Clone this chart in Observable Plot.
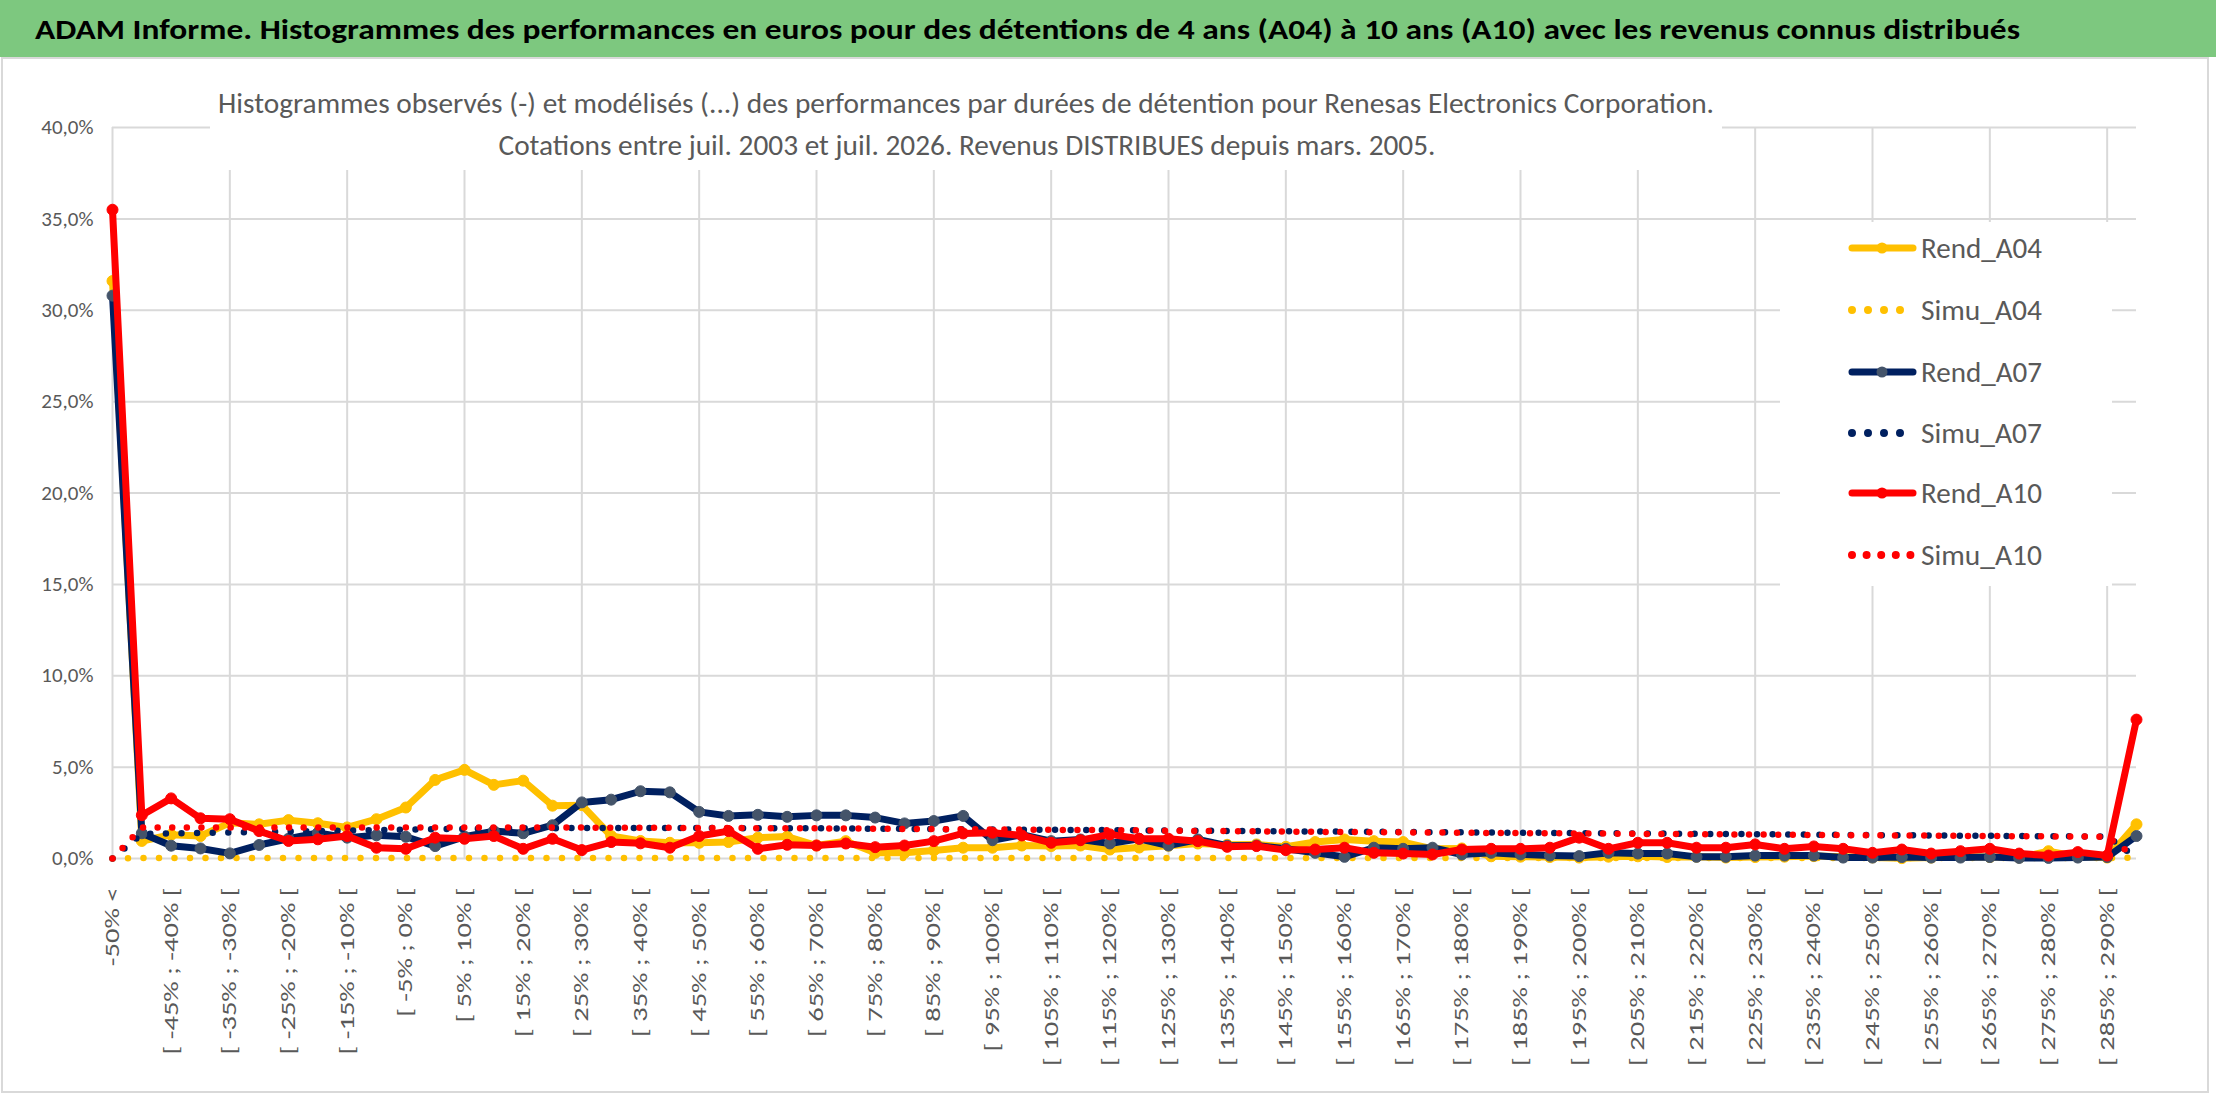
<!DOCTYPE html>
<html><head><meta charset="utf-8">
<script src="https://cdn.jsdelivr.net/npm/d3@7"></script>
<script src="https://cdn.jsdelivr.net/npm/@observablehq/plot@0.6"></script>
<style>
html,body{margin:0;padding:0;background:#fff;}
#wrap{position:relative;width:2216px;height:1102px;overflow:hidden;background:#fff;}
#chart{position:absolute;left:0;top:58px;}
#overlay{position:absolute;left:0;top:0;pointer-events:none;}
</style>
</head><body>
<div id="wrap"><div id="chart"></div><svg id="overlay" width="2216" height="1102"></svg></div>
<script>
// ---------- data ----------
const cats = [
"-50% <","[ -50% ; -45% [","[ -45% ; -40% [","[ -40% ; -35% [","[ -35% ; -30% [","[ -30% ; -25% [",
"[ -25% ; -20% [","[ -20% ; -15% [","[ -15% ; -10% [","[ -10% ; -5% [","[ -5% ; 0% [","[ 0% ; 5% [",
"[ 5% ; 10% [","[ 10% ; 15% [","[ 15% ; 20% [","[ 20% ; 25% [","[ 25% ; 30% [","[ 30% ; 35% [",
"[ 35% ; 40% [","[ 40% ; 45% [","[ 45% ; 50% [","[ 50% ; 55% [","[ 55% ; 60% [","[ 60% ; 65% [",
"[ 65% ; 70% [","[ 70% ; 75% [","[ 75% ; 80% [","[ 80% ; 85% [","[ 85% ; 90% [","[ 90% ; 95% [",
"[ 95% ; 100% [","[ 100% ; 105% [","[ 105% ; 110% [","[ 110% ; 115% [","[ 115% ; 120% [","[ 120% ; 125% [",
"[ 125% ; 130% [","[ 130% ; 135% [","[ 135% ; 140% [","[ 140% ; 145% [","[ 145% ; 150% [","[ 150% ; 155% [",
"[ 155% ; 160% [","[ 160% ; 165% [","[ 165% ; 170% [","[ 170% ; 175% [","[ 175% ; 180% [","[ 180% ; 185% [",
"[ 185% ; 190% [","[ 190% ; 195% [","[ 195% ; 200% [","[ 200% ; 205% [","[ 205% ; 210% [","[ 210% ; 215% [",
"[ 215% ; 220% [","[ 220% ; 225% [","[ 225% ; 230% [","[ 230% ; 235% [","[ 235% ; 240% [","[ 240% ; 245% [",
"[ 245% ; 250% [","[ 250% ; 255% [","[ 255% ; 260% [","[ 260% ; 265% [","[ 265% ; 270% [","[ 270% ; 275% [",
"[ 275% ; 280% [","[ 280% ; 285% [","[ 285% ; 290% [","> 290%"
];
// values in %
const rendA04 = [31.6,0.96,1.3,1.23,1.95,1.87,2.1,1.93,1.7,2.15,
 2.79,4.3,4.85,4.03,4.26,2.89,2.92,1.23,0.96,0.86,
 0.86,0.9,1.14,1.2,0.71,0.95,0.31,0.31,0.44,0.59,
 0.59,0.71,0.68,0.71,0.49,0.6,0.7,0.82,0.75,0.77,
 0.64,0.9,1.04,0.95,0.9,0.53,0.55,0.12,0.1,0.08,
 0.05,0.1,0.12,0.08,0.1,0.05,0.08,0.1,0.13,0.1,
 0.06,0.02,0.05,0.1,0.08,0.05,0.4,0.1,0.05,1.87];
const simuA04 = [0,0.03,0.03,0.03,0.03,0.03,0.03,0.03,0.03,0.03,
 0.03,0.03,0.03,0.03,0.03,0.03,0.03,0.03,0.03,0.03,
 0.03,0.03,0.03,0.03,0.03,0.03,0.03,0.03,0.03,0.03,
 0.03,0.03,0.03,0.03,0.03,0.03,0.03,0.03,0.03,0.03,
 0.03,0.03,0.03,0.03,0.03,0.03,0.03,0.03,0.03,0.03,
 0.03,0.03,0.03,0.03,0.03,0.03,0.03,0.03,0.03,0.03,
 0.03,0.03,0.03,0.03,0.03,0.03,0.03,0.03,0.03,0.05];
const rendA07 = [30.8,1.38,0.7,0.55,0.28,0.74,1.08,1.4,1.14,1.27,
 1.19,0.68,1.2,1.5,1.38,1.82,3.07,3.22,3.68,3.62,
 2.55,2.33,2.39,2.28,2.36,2.36,2.24,1.92,2.05,2.33,
 1.0,1.3,0.95,1.04,0.82,1.08,0.71,1.04,0.7,0.71,
 0.53,0.31,0.09,0.59,0.53,0.59,0.22,0.31,0.22,0.16,
 0.13,0.31,0.27,0.27,0.09,0.09,0.16,0.16,0.16,0.05,
 0.05,0.08,0.05,0.05,0.08,0.03,0.03,0.05,0.08,1.23];
const simuA07 = [0,1.35,1.38,1.4,1.42,1.45,1.48,1.5,1.53,1.56,
 1.58,1.6,1.62,1.64,1.65,1.66,1.67,1.67,1.67,1.67,
 1.67,1.66,1.66,1.65,1.65,1.64,1.63,1.62,1.61,1.6,
 1.59,1.58,1.57,1.56,1.55,1.54,1.53,1.52,1.51,1.5,
 1.49,1.48,1.47,1.46,1.45,1.44,1.43,1.42,1.41,1.4,
 1.39,1.38,1.37,1.36,1.35,1.34,1.33,1.32,1.3,1.29,
 1.28,1.27,1.26,1.25,1.24,1.23,1.22,1.21,1.2,0.05];
const rendA10 = [35.5,2.37,3.29,2.2,2.15,1.5,0.96,1.05,1.23,0.59,
 0.53,1.14,1.08,1.23,0.53,1.08,0.46,0.9,0.83,0.59,
 1.23,1.5,0.53,0.75,0.71,0.82,0.62,0.71,0.95,1.37,
 1.41,1.26,0.86,1.0,1.32,1.08,1.08,0.95,0.64,0.68,
 0.46,0.49,0.59,0.31,0.27,0.22,0.49,0.53,0.53,0.59,
 1.14,0.53,0.86,0.86,0.59,0.59,0.77,0.53,0.66,0.53,
 0.31,0.49,0.27,0.4,0.53,0.27,0.16,0.35,0.16,7.6];
const simuA10 = [0,1.69,1.7,1.7,1.7,1.7,1.7,1.7,1.7,1.7,
 1.7,1.7,1.7,1.7,1.69,1.69,1.69,1.68,1.68,1.68,
 1.67,1.67,1.66,1.66,1.65,1.64,1.63,1.62,1.61,1.6,
 1.59,1.58,1.57,1.56,1.55,1.54,1.52,1.51,1.5,1.49,
 1.47,1.46,1.45,1.44,1.43,1.42,1.41,1.4,1.39,1.38,
 1.37,1.36,1.35,1.34,1.33,1.32,1.31,1.3,1.29,1.28,
 1.27,1.26,1.25,1.24,1.23,1.22,1.21,1.2,1.19,0.05];
const yTicks = [0,5,10,15,20,25,30,35,40];
const seriesNames = ["Rend_A04","Simu_A04","Rend_A07","Simu_A07","Rend_A10","Simu_A10"];
const titleText = "ADAM Informe. Histogrammes des performances en euros pour des détentions de 4 ans (A04) à 10 ans (A10) avec les revenus connus distribués";
const subtitle1 = "Histogrammes observés (-) et modélisés (...) des performances par durées de détention pour Renesas Electronics Corporation.";
const subtitle2 = "Cotations entre juil. 2003 et juil. 2026. Revenus DISTRIBUES depuis mars. 2005.";

// ---------- font pick ----------
function pickFont(list){
  const c = document.createElement("canvas").getContext("2d");
  const s = "Rend_A04 [ -45% ; -40% [ mmmwwwiii ADAM";
  c.font = "40px monospace"; const base = c.measureText(s).width;
  for (const f of list){ c.font = `40px '${f}', monospace`; if (Math.abs(c.measureText(s).width - base) > 0.5) return f; }
  return "sans-serif";
}
const FONT = pickFont(["Carlito","Calibri","Liberation Sans Narrow","DejaVu Sans Condensed","Open Sans","Roboto"]);
const FF = `'${FONT}', sans-serif`;

// ---------- table ----------
const table = [];
const valsBy = {Rend_A04: rendA04, Simu_A04: simuA04, Rend_A07: rendA07, Simu_A07: simuA07, Rend_A10: rendA10, Simu_A10: simuA10};
for (const s of seriesNames) cats.forEach((c, i) => table.push({cat: c, series: s, value: valsBy[s][i]}));
const of = s => table.filter(d => d.series === s);

const YEL = "#FFC000", NAVY = "#002060", NAVYM = "#44546A", RED = "#FF0000", GRID = "#D9D9D9", TXT = "#595959";
const solid = (s, color, mcolor) => [
  Plot.line(of(s), {x: "cat", y: "value", stroke: color, strokeWidth: 7, strokeLinejoin: "round", strokeLinecap: "round"}),
  Plot.dot(of(s), {x: "cat", y: "value", r: 5.5, fill: mcolor, stroke: mcolor, strokeWidth: 1})
];
const dotted = (s, color, period) => Plot.line(of(s), {x: "cat", y: "value", stroke: color, strokeWidth: 6.5, strokeLinecap: "round", strokeDasharray: `0 ${period}`});

const plot = Plot.plot({
  width: 2216, height: 1044,
  marginLeft: 112, marginRight: 80, marginTop: 69, marginBottom: 244,
  x: {type: "point", domain: cats, padding: 0, round: false},
  y: {domain: [0, 40]},
  style: {fontFamily: FF, fontSize: "21px", color: TXT, background: "transparent", overflow: "visible"},
  marks: [
    Plot.ruleY(yTicks, {stroke: GRID, strokeWidth: 2}),
    Plot.ruleX(cats.filter((d, i) => i % 4 === 0), {stroke: GRID, strokeWidth: 2}),
    Plot.axisY({ticks: yTicks, tickFormat: d => d.toFixed(1).replace(".", ",") + "%", tickSize: 0, tickPadding: 19, label: null, fontSize: 21}),
    Plot.axisX({ticks: cats.filter((d, i) => i % 2 === 0), tickRotate: -90, tickSize: 0, tickPadding: 29, label: null, fontSize: 20}),
    ...solid("Rend_A04", YEL, YEL),
    dotted("Simu_A04", YEL, 15.5),
    ...solid("Rend_A07", NAVY, NAVYM),
    dotted("Simu_A07", NAVY, 15.6),
    ...solid("Rend_A10", RED, RED),
    dotted("Simu_A10", RED, 14.6)
  ]
});
document.getElementById("chart").appendChild(plot);

// stretch x tick labels along their length (as in the reference)
const xt = plot.querySelectorAll('g[aria-label="x-axis tick label"] text');
let ref = null;
xt.forEach(t => { if (t.textContent === "[ -45% ; -40% [") ref = t.getComputedTextLength(); });
const k = ref ? 167 / ref : 1.45;
xt.forEach(t => { const L = t.getComputedTextLength(); t.setAttribute("textLength", L * k); t.setAttribute("lengthAdjust", "spacingAndGlyphs"); });

// ---------- overlay: header, subtitle, legend ----------
const ov = d3.select("#overlay").style("font-family", FF);
ov.append("rect").attr("x", 2).attr("y", 58).attr("width", 2206).attr("height", 1034).attr("fill", "none").attr("stroke", GRID).attr("stroke-width", 2);
ov.append("rect").attr("x", 0).attr("y", 0).attr("width", 2216).attr("height", 57).attr("fill", "#7DC87F");
ov.append("text").attr("x", 35).attr("y", 39).attr("font-size", 29).attr("font-weight", "bold").attr("fill", "#000")
  .attr("textLength", 1985).attr("lengthAdjust", "spacingAndGlyphs").text(titleText);

ov.append("rect").attr("x", 210).attr("y", 80).attr("width", 1512).attr("height", 90).attr("fill", "#fff");
ov.append("text").attr("x", 966).attr("y", 113).attr("text-anchor", "middle").attr("font-size", 29).attr("fill", TXT)
  .attr("textLength", 1496).attr("lengthAdjust", "spacingAndGlyphs").text(subtitle1);
ov.append("text").attr("x", 967).attr("y", 155).attr("text-anchor", "middle").attr("font-size", 29).attr("fill", TXT)
  .attr("textLength", 937).attr("lengthAdjust", "spacingAndGlyphs").text(subtitle2);

ov.append("rect").attr("x", 1780).attr("y", 222).attr("width", 332).attr("height", 364).attr("fill", "#fff");
const legY = [248, 310, 372, 433, 493, 555];
const legDef = [
  {name: "Rend_A04", type: "solid", c: YEL, m: YEL},
  {name: "Simu_A04", type: "dot", c: YEL, n: 4, p: 16},
  {name: "Rend_A07", type: "solid", c: NAVY, m: NAVYM},
  {name: "Simu_A07", type: "dot", c: NAVY, n: 4, p: 16},
  {name: "Rend_A10", type: "solid", c: RED, m: RED},
  {name: "Simu_A10", type: "dot", c: RED, n: 5, p: 14.6}
];
legDef.forEach((d, i) => {
  const y = legY[i];
  if (d.type === "solid") {
    ov.append("line").attr("x1", 1852).attr("x2", 1913).attr("y1", y).attr("y2", y).attr("stroke", d.c).attr("stroke-width", 7).attr("stroke-linecap", "round");
    ov.append("circle").attr("cx", 1882).attr("cy", y).attr("r", 5.5).attr("fill", d.m);
  } else {
    ov.append("line").attr("x1", 1852).attr("x2", 1852 + d.p * (d.n - 1) + 0.1).attr("y1", y).attr("y2", y).attr("stroke", d.c)
      .attr("stroke-width", 8).attr("stroke-linecap", "round").attr("stroke-dasharray", `0 ${d.p}`);
  }
  ov.append("text").attr("x", 1921).attr("y", y + 10).attr("font-size", 29).attr("fill", TXT)
    .attr("textLength", 121).attr("lengthAdjust", "spacingAndGlyphs").text(d.name);
});
</script>
</body></html>
